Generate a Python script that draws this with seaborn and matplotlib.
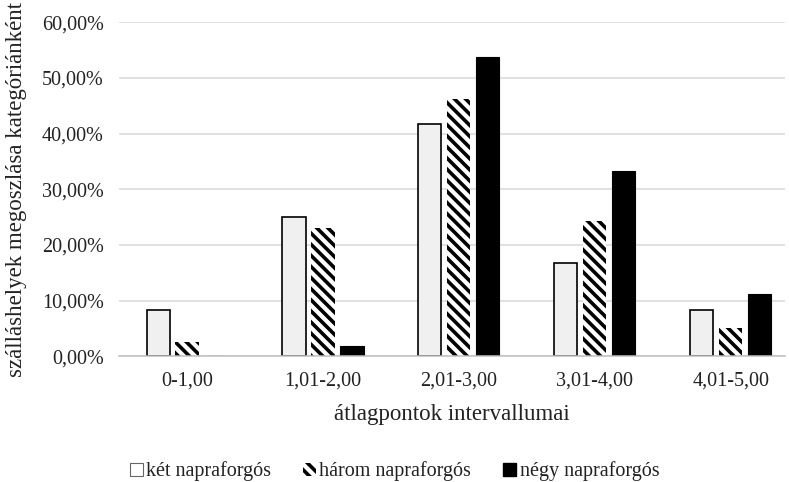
import matplotlib
matplotlib.use("Agg")
import matplotlib.pyplot as plt
import seaborn as sns
import pandas as pd
from matplotlib.ticker import FuncFormatter

# átlagpont-intervallumok és a három kategória megoszlása (%)
intervals = ['0-1,00', '1,01-2,00', '2,01-3,00', '3,01-4,00', '4,01-5,00']
series = ['két napraforgós', 'három napraforgós', 'négy napraforgós']
ket = [8.33, 25.00, 41.67, 16.67, 8.33]
harom = [2.56, 23.08, 46.15, 24.36, 5.13]
negy = [0.00, 1.85, 53.70, 33.33, 11.11]

df = pd.DataFrame({
    'interval': intervals * 3,
    'series': [series[0]] * 5 + [series[1]] * 5 + [series[2]] * 5,
    'value': [v / 100 for v in ket + harom + negy],
})

sns.set_theme(style='white')
plt.rcParams['font.family'] = ['Liberation Serif', 'DejaVu Serif']
plt.rcParams['hatch.linewidth'] = 2.6

fig = plt.figure(figsize=(7.89, 4.82), dpi=100)
ax = fig.add_axes([0.151, 0.261, 0.844, 0.693])

colors = ['#f0f0f0', 'white', 'black']
sns.barplot(data=df, x='interval', y='value', hue='series', order=intervals,
            hue_order=series, palette=colors, width=0.64, gap=0.2,
            ax=ax, legend=False)

# stílus: keret a két napraforgós oszlopokon, sraffozás a háromnál
n = len(intervals)
for i, bar in enumerate(ax.patches[:3 * n]):
    s = i // n
    if s == 0:
        bar.set_edgecolor('black')
        bar.set_linewidth(1.2)
    elif s == 1:
        bar.set_hatch('\\\\\\')
        bar.set_edgecolor('black')
        bar.set_linewidth(0)
    else:
        bar.set_edgecolor('black')
        bar.set_linewidth(0.8)

ax.set_xlim(-0.5, 4.4)
ax.set_ylim(0, 0.6)
ax.set_yticks([0, 0.1, 0.2, 0.3, 0.4, 0.5, 0.6])
ax.yaxis.set_major_formatter(FuncFormatter(lambda v, p: f'{v * 100:.2f}%'.replace('.', ',')))
ax.grid(axis='y', color='#d9d9d9', linewidth=1.1)
ax.set_axisbelow(True)
for side in ['top', 'right', 'left']:
    ax.spines[side].set_visible(False)
ax.spines['bottom'].set_color('#bfbfbf')
ax.spines['bottom'].set_linewidth(1.1)
ax.tick_params(axis='both', length=0, labelsize=14.5, colors='#222222')
ax.tick_params(axis='y', pad=11)
ax.tick_params(axis='x', pad=11)

ax.set_xlabel('átlagpontok intervallumai', fontsize=16.5, color='#222222', labelpad=10)
ax.set_ylabel('szálláshelyek megoszlása kategóriánként', fontsize=16.5, color='#222222', labelpad=4)
ax.yaxis.set_label_coords(-0.138, 0.5)

handles = [
    matplotlib.patches.Patch(facecolor='white', edgecolor='#666666', linewidth=0.8),
    matplotlib.patches.Patch(facecolor='white', edgecolor='black', hatch='\\\\\\', linewidth=0),
    matplotlib.patches.Patch(facecolor='black', edgecolor='black'),
]
fig.legend(handles, series, loc='center', bbox_to_anchor=(0.5, 0.022), ncol=3,
           frameon=False, fontsize=14.5, handlelength=0.65, handleheight=0.65,
           handletextpad=0.15, columnspacing=1.6, labelcolor='#222222')

fig.savefig('out.png', dpi=100)
plt.close(fig)
